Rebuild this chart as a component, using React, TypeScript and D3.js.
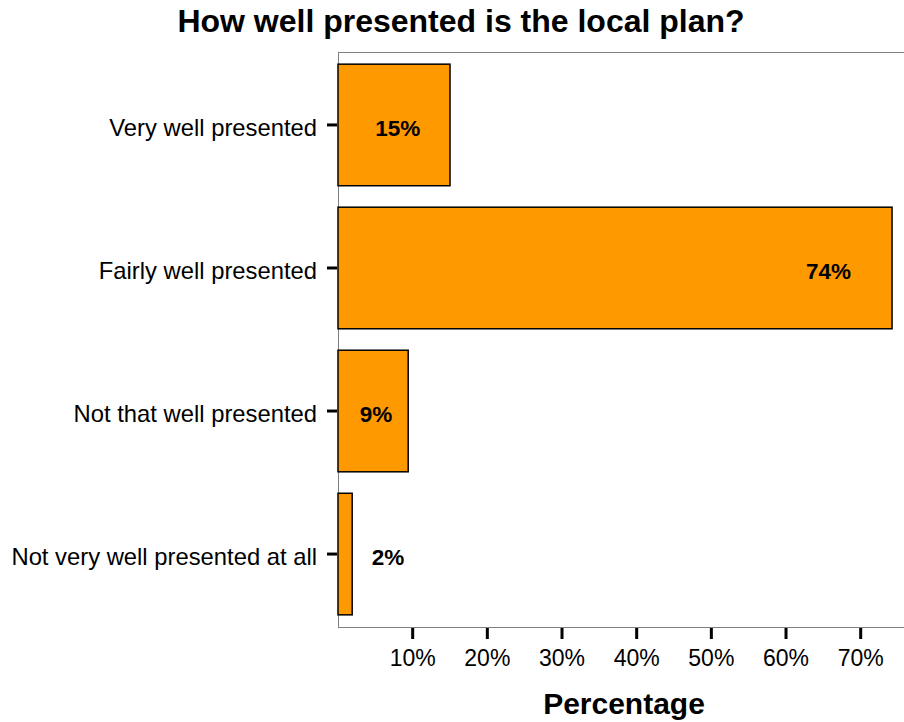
import React from "react";
import * as d3 from "d3";

const categories = [
  "Very well presented",
  "Fairly well presented",
  "Not that well presented",
  "Not very well presented at all",
];
const values = [15.0, 74.2, 9.4, 1.9];
const valueLabels = ["15%", "74%", "9%", "2%"];
const labelAnchors = [8.0, 65.7, 5.1, 6.7];
const xTicks = [10, 20, 30, 40, 50, 60, 70];

const W = 904;
const H = 722;
const M = { left: 338, right: 904, top: 52, bottom: 627 };

export default function App() {
  const x = d3.scaleLinear().domain([0, 75.8]).range([M.left, M.right]);
  const y = d3
    .scaleBand<string>()
    .domain(categories)
    .range([M.top, M.bottom])
    .paddingInner(0.15)
    .paddingOuter(0.085);
  const font = "'Liberation Sans', Arial, sans-serif";
  return (
    <svg
      width={W}
      height={H}
      style={{ position: "absolute", left: 0, top: 0, fontFamily: font }}
    >
      <rect x={0} y={0} width={W} height={H} fill="#fff" />
      <text
        x={461}
        y={32}
        textAnchor="middle"
        fontSize={32}
        fontWeight="bold"
        fill="#000"
      >
        How well presented is the local plan?
      </text>
      {/* frame */}
      <line x1={M.left} x2={M.right} y1={M.top + 0.5} y2={M.top + 0.5} stroke="#808080" strokeWidth={1} />
      <line x1={M.left + 0.5} x2={M.left + 0.5} y1={M.top} y2={M.bottom} stroke="#808080" strokeWidth={1} />
      <line x1={M.left} x2={M.right} y1={M.bottom + 0.5} y2={M.bottom + 0.5} stroke="#808080" strokeWidth={1} />
      {/* bars */}
      {categories.map((c, i) => (
        <rect
          key={c}
          x={x(0)}
          y={y(c)!}
          width={x(values[i]) - x(0)}
          height={y.bandwidth()}
          fill="#FF9900"
          stroke="#000"
          strokeWidth={1.5}
        />
      ))}
      {/* value labels */}
      {categories.map((c, i) => (
        <text
          key={"l" + c}
          x={x(labelAnchors[i])}
          y={y(c)! + y.bandwidth() / 2}
          dy="0.48em"
          textAnchor="middle"
          fontSize={22.5}
          fontWeight="bold"
          fill="#000"
        >
          {valueLabels[i]}
        </text>
      ))}
      {/* y axis ticks and labels */}
      {categories.map((c) => (
        <g key={"y" + c}>
          <line
            x1={M.left - 11}
            x2={M.left - 1}
            y1={y(c)! + y.bandwidth() / 2}
            y2={y(c)! + y.bandwidth() / 2}
            stroke="#000"
            strokeWidth={3}
          />
          <text
            x={M.left - 21}
            y={y(c)! + y.bandwidth() / 2}
            dy="0.46em"
            textAnchor="end"
            fontSize={23.8}
            fill="#000"
          >
            {c}
          </text>
        </g>
      ))}
      {/* x axis ticks */}
      {xTicks.map((t) => (
        <g key={"x" + t}>
          <line
            x1={x(t)}
            x2={x(t)}
            y1={M.bottom + 1}
            y2={M.bottom + 12}
            stroke="#000"
            strokeWidth={3}
          />
          <text
            x={x(t)}
            y={M.bottom + 31}
            dy="0.35em"
            textAnchor="middle"
            fontSize={23}
            fill="#000"
          >
            {t}%
          </text>
        </g>
      ))}
      <text
        x={624}
        y={714}
        textAnchor="middle"
        fontSize={30}
        fontWeight="bold"
        fill="#000"
      >
        Percentage
      </text>
    </svg>
  );
}
